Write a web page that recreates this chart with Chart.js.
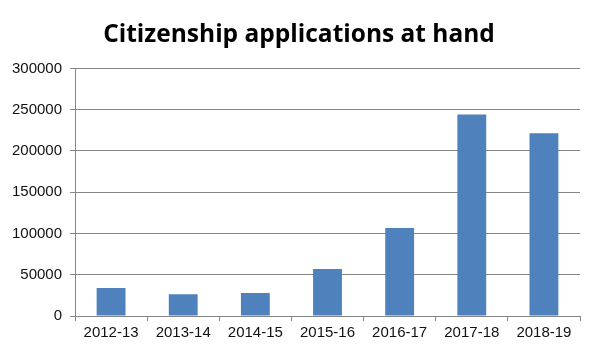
<!DOCTYPE html>
<html>
<head>
<meta charset="utf-8">
<script src="https://cdn.jsdelivr.net/npm/chart.js@4"></script>
<style>
html,body{margin:0;padding:0;background:#fff;}
#wrap{width:598px;height:356px;}
</style>
</head>
<body>
<div id="wrap"><canvas id="c" width="598" height="356"></canvas></div>
<script>
const titleText = "Citizenship applications at hand";
const categories = ["2012-13","2013-14","2014-15","2015-16","2016-17","2017-18","2018-19"];
const applications = [34000, 26500, 27800, 57000, 106500, 244000, 221500];
const yTicks = [0, 50000, 100000, 150000, 200000, 250000, 300000];

const centerTitle = {
  id: 'centerTitle',
  afterLayout(chart) {
    const t = chart.titleBlock;
    if (t) { t.left += 9; t.right += 9; }
  }
};

new Chart(document.getElementById('c'), {
  type: 'bar',
  data: {
    labels: categories,
    datasets: [{
      data: applications,
      backgroundColor: '#4F81BD',
      borderWidth: 0,
      categoryPercentage: 1.0,
      barPercentage: 0.4
    }]
  },
  plugins: [centerTitle],
  options: {
    responsive: false,
    animation: false,
    devicePixelRatio: 1,
    layout: { padding: { left: 0, right: 18, top: 0, bottom: 0 } },
    plugins: {
      legend: { display: false },
      tooltip: { enabled: false },
      title: {
        display: true,
        text: titleText,
        color: '#000',
        font: { family: 'Open Sans', weight: 'bold', size: 24.5, lineHeight: 1.2 },
        padding: { top: 20, bottom: 19 }
      }
    },
    scales: {
      x: {
        grid: { display: true, drawOnChartArea: false, offset: true, color: '#868686', tickLength: 5 },
        border: { display: true, color: '#868686' },
        ticks: { color: '#111', font: { family: 'Liberation Sans', size: 15 }, padding: 3, maxRotation: 0 },
        afterFit: (s) => { s.height = 40; }
      },
      y: {
        min: 0, max: 300000,
        afterBuildTicks: (s) => { s.ticks = yTicks.map(v => ({ value: v })); },
        grid: { color: '#868686', tickLength: 5 },
        border: { display: true, color: '#868686' },
        ticks: { color: '#111', font: { family: 'Liberation Sans', size: 15 }, padding: 8, callback: (v) => String(v) },
        afterFit: (s) => { s.width = 75; }
      }
    }
  }
});
</script>
</body>
</html>
